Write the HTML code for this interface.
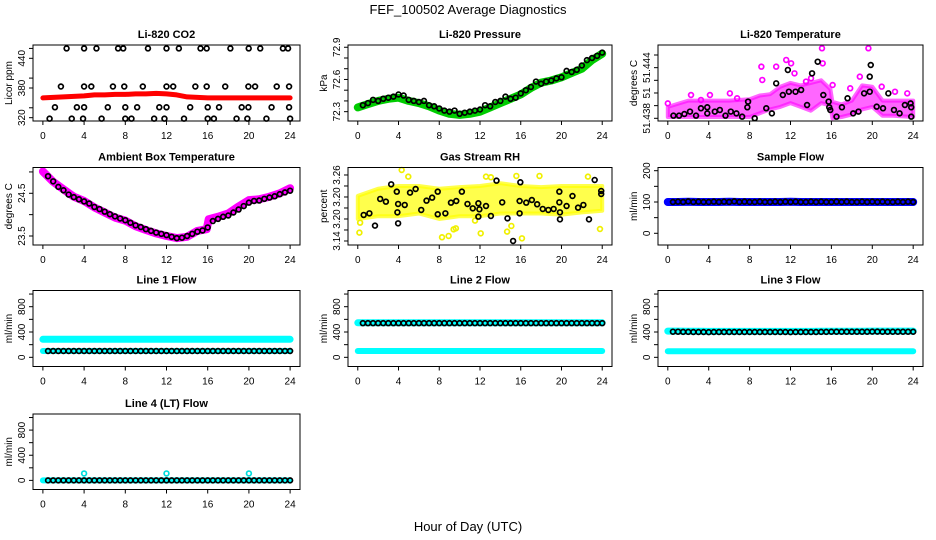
<!DOCTYPE html>
<html><head><meta charset="utf-8"><style>
html,body{margin:0;padding:0;background:#fff;}
svg{display:block;font-family:"Liberation Sans",sans-serif;}
</style></head><body>
<svg id="chart" width="936" height="540" viewBox="0 0 936 540" xmlns="http://www.w3.org/2000/svg">
<rect width="936" height="540" fill="#fff"/>
<text x="468" y="14" text-anchor="middle" font-size="13">FEF_100502  Average Diagnostics</text>
<text x="468" y="531" text-anchor="middle" font-size="13">Hour of Day (UTC)</text>
</svg>
<script>
// ---------- data ----------
const xTicks = [0,4,8,12,16,20,24];
const hourGrid = [0,1,2,3,4,5,6,7,8,9,10,11,12,13,14,15,16,17,18,19,20,21,22,23,24];
const halfHours = [0.5,1,1.5,2,2.5,3,3.5,4,4.5,5,5.5,6,6.5,7,7.5,8,8.5,9,9.5,10,10.5,11,11.5,12,12.5,13,13.5,14,14.5,15,15.5,16,16.5,17,17.5,18,18.5,19,19.5,20,20.5,21,21.5,22,22.5,23,23.5,24];

// CO2
const co2Red = [360,361,362,363,364,366,366,367,367,368,368,369,368,366,362,361,360,360,360,360,360,360,360,360,360];
const co2BlackH = [2.3,4.0,5.2,7.3,7.8,10.2,12.0,13.2,15.3,15.9,18.2,19.98,21.1,23.3,23.8,
 1.75,4.0,4.7,6.8,7.9,9.7,12.0,12.65,14.8,15.9,17.7,19.95,20.6,22.7,23.9,
 1.17,3.3,4.0,6.3,8.0,9.15,11.3,12.0,14.3,16.0,17.1,19.3,19.95,22.2,23.9,
 0.65,2.8,3.9,5.7,8.0,8.6,10.8,11.8,13.7,16.0,16.6,18.8,19.85,21.7,24.0];
const co2BlackV = [460,460,460,460,460,460,460,460,460,460,460,460,460,460,460,
 383,383,383,383,383,383,383,383,383,383,383,383,383,383,383,
 341,341,341,341,341,341,341,341,341,341,341,341,341,341,341,
 318,318,318,318,318,318,318,318,318,318,318,318,318,318,318];

// Pressure
const presBand = [72.34,72.37,72.40,72.42,72.43,72.40,72.38,72.35,72.31,72.28,72.27,72.28,72.30,72.34,72.38,72.42,72.46,72.52,72.57,72.59,72.62,72.66,72.70,72.78,72.84];
const presBlack = [72.36,72.38,72.41,72.40,72.42,72.43,72.44,72.46,72.45,72.41,72.40,72.39,72.40,72.36,72.35,72.33,72.31,72.30,72.31,72.28,72.29,72.30,72.31,72.32,72.36,72.35,72.39,72.40,72.44,72.42,72.43,72.47,72.50,72.53,72.58,72.56,72.58,72.59,72.61,72.62,72.68,72.67,72.69,72.73,72.78,72.80,72.82,72.85];

// Li-820 temperature
const tempEnvH = [0,2,4,6,8,9,10,11,12,13,14,15,15.9,16.1,17,18,19,20,21,22,24];
const tempLow = [51.4381,51.4381,51.4381,51.4381,51.4381,51.4384,51.4387,51.4389,51.4392,51.4389,51.4386,51.4392,51.4390,51.4380,51.4381,51.4383,51.4387,51.4389,51.4382,51.4382,51.4381];
const tempHigh = [51.4389,51.4394,51.4394,51.4394,51.4395,51.4398,51.4399,51.4405,51.4408,51.4406,51.4408,51.4410,51.4403,51.4393,51.4391,51.4394,51.4406,51.4405,51.4394,51.4394,51.4394];
const tempOutH = [0,2.27,3.24,4.12,6.07,6.78,9.15,9.24,10.6,11.58,12.06,12.39,13.52,14.01,15.08,15.15,16.12,17.84,18.78,19.62,20.92,22.22,23.42];
const tempOutV = [51.43918,51.43984,51.43945,51.43984,51.43997,51.43958,51.44208,51.44103,51.44208,51.44261,51.44234,51.44155,51.4409,51.44116,51.44353,51.44234,51.44063,51.44037,51.44129,51.44353,51.4405,51.4401,51.43997];
const tempBlackH = [0.55,1.1,1.62,2.17,2.76,3.24,3.86,3.86,4.6,5.09,5.64,6.16,6.71,7.27,7.78,7.85,8.5,9.63,10.18,10.6,11.25,11.74,11.84,12.49,13.04,13.62,14.11,14.66,15.21,15.73,15.79,15.89,16.5,17.03,17.58,18.13,18.65,19.2,19.75,19.75,19.85,20.43,21.05,21.57,22.12,22.67,23.19,23.75,23.81,23.81];
const tempBlackV = [51.43821,51.43821,51.43834,51.43853,51.43821,51.43879,51.43887,51.43839,51.43853,51.43866,51.43821,51.43853,51.43839,51.43813,51.43887,51.43932,51.438,51.43879,51.43839,51.44076,51.43984,51.44182,51.4401,51.4401,51.44024,51.43905,51.44155,51.44247,51.43984,51.43932,51.43887,51.43866,51.43813,51.43887,51.43958,51.43839,51.43853,51.43997,51.4401,51.44129,51.44221,51.43892,51.43879,51.43997,51.43866,51.43839,51.43905,51.43918,51.43887,51.43813];

// Ambient box temperature
const ambH = [0,1,2,3,4,5,6,7,8,9,10,11,12,13,14,15,15.9,16.1,17,18,19,20,21,22,23,24];
const ambBand = [25.01,24.77,24.59,24.42,24.32,24.17,24.05,23.93,23.86,23.73,23.64,23.56,23.50,23.45,23.48,23.62,23.66,23.89,23.95,24.03,24.19,24.34,24.36,24.42,24.5,24.62];
const ambBlack = [24.9,24.78,24.65,24.57,24.47,24.41,24.36,24.31,24.26,24.18,24.13,24.07,24.01,23.96,23.91,23.87,23.81,23.75,23.71,23.66,23.62,23.58,23.55,23.52,23.48,23.45,23.46,23.5,23.55,23.6,23.63,23.7,23.85,23.9,23.95,23.98,24.05,24.12,24.2,24.28,24.32,24.33,24.37,24.4,24.43,24.48,24.52,24.56];

// Gas stream RH
const rhEnvH = [0,2,4,6,8,10,12,14,16,18,20,22,24];
const rhLow = [3.180,3.185,3.185,3.190,3.180,3.185,3.185,3.190,3.190,3.190,3.188,3.192,3.195];
const rhHigh = [3.222,3.235,3.240,3.240,3.235,3.238,3.240,3.245,3.240,3.238,3.240,3.240,3.240];
const rhOutH = [0.16,0.23,4.31,4.96,8.27,8.92,9.41,9.63,11.51,12.07,12.59,13.07,14.66,15.08,15.57,16.12,17.84,22.6,23.78];
const rhOutV = [3.1552,3.1733,3.2691,3.257,3.1467,3.1491,3.1612,3.163,3.177,3.1539,3.257,3.2558,3.157,3.1673,3.2582,3.1448,3.2582,3.257,3.1618];
const rhBlackH = [0.58,1.14,1.69,2.2,2.76,3.28,3.83,3.89,3.96,3.96,4.61,5.13,5.68,6.23,6.75,7.3,7.85,7.85,8.6,9.15,9.67,10.22,10.77,11.29,11.84,11.84,11.94,12.59,13.07,13.62,14.18,14.7,15.25,15.89,15.89,15.96,16.54,17.09,17.61,18.16,18.71,19.23,19.79,19.79,19.85,19.85,20.5,21.08,21.63,22.15,22.7,23.26,23.9,23.9];
const rhBlackV = [3.1873,3.1903,3.1679,3.2164,3.2115,3.243,3.2297,3.1921,3.2073,3.1721,3.2055,3.2279,3.2345,3.1964,3.2133,3.2188,3.2297,3.1885,3.1903,3.2097,3.2127,3.2297,3.2073,3.1994,3.2085,3.1842,3.1976,3.2036,3.1855,3.2497,3.2103,3.1812,3.14,3.2127,3.1903,3.2467,3.2097,3.2145,3.2067,3.1982,3.1964,3.1982,3.2297,3.2103,3.1921,3.1794,3.2036,3.2218,3.2006,3.2055,3.1794,3.2509,3.2255,3.2309];

// Flows (hourly bands, half-hourly black points)
const sampleBand = [100,100,101,100,100,100,101,100,100,100,100,100,101,100,100,100,100,100,100,100,100,100,100,100,100];
const sampleBlack = [100,101,100,102,100,101,100,100,101,100,101,100,102,100,101,100,100,101,100,100,101,100,101,100,101,100,100,101,100,101,100,100,101,100,101,100,100,101,100,101,100,101,100,100,101,100,101,100];
const line1Hi = [285,285,285,285,285,285,285,285,285,285,285,285,285,285,285,285,285,285,285,285,285,285,285,285,285];
const line1Lo = [100,100,100,100,100,100,100,100,100,100,100,100,100,100,100,100,100,100,100,100,100,100,100,100,100];
const line1Black = [100,100,100,100,100,100,100,100,100,100,100,100,100,100,100,100,100,100,100,100,100,100,100,100,100,100,100,100,100,100,100,100,100,100,100,100,100,100,100,100,100,100,100,100,100,100,100,100];
const line2Hi = [545,545,545,545,545,545,545,545,545,545,545,545,545,545,545,545,545,545,545,545,545,545,545,545,545];
const line2Lo = [100,100,100,100,100,100,100,100,100,100,100,100,100,100,100,100,100,100,100,100,100,100,100,100,100];
const line2Black = [540,540,540,540,540,540,540,540,540,540,540,540,540,540,540,540,540,540,540,540,540,540,540,540,540,540,540,540,540,540,540,540,540,540,540,540,540,540,540,540,540,540,540,540,540,540,540,540];
const line3Hi = [415,415,412,412,410,410,410,410,410,410,410,410,410,410,410,412,412,412,412,412,415,415,415,415,415];
const line3Lo = [95,95,95,95,95,95,95,95,95,95,95,95,95,95,95,95,95,95,95,95,95,95,95,95,95];
const line3Black = [405,405,402,402,400,400,400,398,400,400,400,400,400,400,400,400,400,400,400,400,400,400,400,398,400,400,400,400,400,402,402,404,404,404,404,404,404,404,404,406,406,404,404,404,404,404,404,404];
const line4Cyan = [0,0,0,0,0,0,0,0,0,0,0,0,0,0,0,0,0,0,0,0,0,0,0,0,0];
const line4Black = [0,0,0,0,0,0,0,0,0,0,0,0,0,0,0,0,0,0,0,0,0,0,0,0,0,0,0,0,0,0,0,0,0,0,0,0,0,0,0,0,0,0,0,0,0,0,0,0];
const line4OutH = [4,12,20];
const line4OutV = [110,110,110];

// ---------- drawing ----------
const NS = "http://www.w3.org/2000/svg";
const svg = document.getElementById("chart");
const colL = [33,348,658], colR = [300,612,923];
const rowT = [45,167.5,290.5,414], rowB = [121,245,366.5,489.5];

function mk(tag, attrs, parent) {
  const e = document.createElementNS(NS, tag);
  for (const k in attrs) e.setAttribute(k, attrs[k]);
  (parent || svg).appendChild(e);
  return e;
}

function panel(name, col, row, ylim, title, ylab, yTicks, yLabels) {
  const g = mk("g", {});
  
  
  const L = colL[col], R = colR[col], T = rowT[row], B = rowB[row];
  const x = h => L + (h + 0.96) / 25.92 * (R - L);
  const y = v => B - (v - ylim[0]) / (ylim[1] - ylim[0]) * (B - T);
  const t = mk("text", {x: (L + R) / 2, y: T - 7, "text-anchor": "middle", "font-size": 11, "font-weight": "bold"}, g);
  t.textContent = title;
  
  
  const yl = mk("text", {x: 0, y: 0, "text-anchor": "middle", "font-size": 10, transform: `translate(${L - 21},${(T + B) / 2}) rotate(-90)`}, g);
  yl.textContent = ylab;
  
  
  const plot = mk("g", {}, g);
  
  
  const box = mk("rect", {x: L, y: T, width: R - L, height: B - T, fill: "none", stroke: "#000", "stroke-width": 1}, g);
  
  
  const xa = mk("g", {}, g);
  
  
  xTicks.forEach(v => {
    mk("line", {x1: x(v), x2: x(v), y1: B, y2: B + 4, stroke: "#000"}, xa);
    const lb = mk("text", {x: x(v), y: B + 18, "text-anchor": "middle", "font-size": 10}, xa);
    lb.textContent = v;
    
    
  });
  const ya = mk("g", {}, g);
  
  
  yTicks.forEach((v, i) => {
    mk("line", {x1: L - 4, x2: L, y1: y(v), y2: y(v), stroke: "#000"}, ya);
    if (yLabels[i] !== "") {
      const lb = mk("text", {x: 0, y: 0, "text-anchor": "middle", "font-size": 10, transform: `translate(${L - 8},${y(v)}) rotate(-90)`}, ya);
      lb.textContent = yLabels[i];
      
      
    }
  });
  return {x, y, plot, name};
}

function band(p, hs, vs, color, w, label) {
  const pts = hs.map((h, i) => p.x(h).toFixed(1) + "," + p.y(vs[i]).toFixed(1)).join(" ");
  const e = mk("polyline", {points: pts, fill: "none", stroke: color, "stroke-width": w, "stroke-linejoin": "round", "stroke-linecap": "round"}, p.plot);
  
  
}
function envelope(p, hs, lo, hi, color, op, label) {
  const a = hs.map((h, i) => p.x(h).toFixed(1) + "," + p.y(hi[i]).toFixed(1));
  const b = hs.map((h, i) => p.x(h).toFixed(1) + "," + p.y(lo[i]).toFixed(1)).reverse();
  const e = mk("polygon", {points: a.concat(b).join(" "), fill: color, "fill-opacity": op, stroke: color, "stroke-width": 4, "stroke-opacity": op, "stroke-linejoin": "round"}, p.plot);
  
  
}
function points(p, hs, vs, color, label) {
  const g = mk("g", {}, p.plot);
  
  
  hs.forEach((h, i) => {
    const c = mk("circle", {cx: p.x(h), cy: p.y(vs[i]), r: 2.4, fill: "none", stroke: color, "stroke-width": 1.7}, g);
    
    
  });
}

const flowTicks = [0,200,400,600,800,1000];
const flowLabels = ["0","","400","","800",""];

// Row 1
let p = panel("co2", 0, 0, [313.3,466.9], "Li-820 CO2", "Licor ppm", [320,340,380,400,440,460], ["320","","380","","440",""]);
band(p, hourGrid, co2Red, "#ff0000", 5, "red-series");
points(p, co2BlackH, co2BlackV, "#000", "black-series");

p = panel("pressure", 1, 0, [72.213,72.921], "Li-820 Pressure", "kPa", [72.3,72.4,72.5,72.6,72.7,72.8,72.9], ["72.3","","","72.6","","","72.9"]);
band(p, hourGrid, presBand, "#00cc00", 8, "green-series");
points(p, halfHours, presBlack, "#000", "black-series");

p = panel("li820-temp", 2, 0, [51.437787,51.44379], "Li-820 Temperature", "degrees C", [51.438,51.439,51.440,51.441,51.442,51.443], ["51.438","","51","","51.444",""]);
envelope(p, tempEnvH, tempLow, tempHigh, "#ff00ff", 0.6, "magenta-cloud");
points(p, tempOutH, tempOutV, "#ff00ff", "magenta-outliers");
points(p, tempBlackH, tempBlackV, "#000", "black-series");

// Row 2
p = panel("ambient-temp", 0, 1, [23.289,25.104], "Ambient Box Temperature", "degrees C", [23.5,24.0,24.5,25.0], ["23.5","","24.5",""]);
band(p, ambH, ambBand, "#ff00ff", 8, "magenta-series");
points(p, halfHours, ambBlack, "#000", "black-series");

p = panel("gas-rh", 1, 1, [3.1327,3.2736], "Gas Stream RH", "percent", [3.14,3.16,3.18,3.20,3.22,3.24,3.26], ["3.14","","3.20","","3.20","","3.26"]);
envelope(p, rhEnvH, rhLow, rhHigh, "#ffff00", 0.7, "yellow-cloud");
points(p, rhOutH, rhOutV, "#f0f000", "yellow-outliers");
points(p, rhBlackH, rhBlackV, "#000", "black-series");

p = panel("sample-flow", 2, 1, [-37.4,210.2], "Sample Flow", "ml/min", [0,50,100,150,200], ["0","","100","","200"]);
band(p, hourGrid, sampleBand, "#0000ff", 8, "blue-series");
points(p, halfHours, sampleBlack, "#000", "black-series");

// Row 3
p = panel("line1-flow", 0, 2, [-145,1056], "Line 1 Flow", "ml/min", flowTicks, flowLabels);
band(p, hourGrid, line1Hi, "#00ffff", 7, "cyan-upper");
band(p, hourGrid, line1Lo, "#00ffff", 6, "cyan-lower");
points(p, halfHours, line1Black, "#000", "black-series");

p = panel("line2-flow", 1, 2, [-145,1056], "Line 2 Flow", "ml/min", flowTicks, flowLabels);
band(p, hourGrid, line2Hi, "#00ffff", 7, "cyan-upper");
band(p, hourGrid, line2Lo, "#00ffff", 6, "cyan-lower");
points(p, halfHours, line2Black, "#000", "black-series");

p = panel("line3-flow", 2, 2, [-145,1056], "Line 3 Flow", "ml/min", flowTicks, flowLabels);
band(p, hourGrid, line3Hi, "#00ffff", 7, "cyan-upper");
band(p, hourGrid, line3Lo, "#00ffff", 6, "cyan-lower");
points(p, halfHours, line3Black, "#000", "black-series");

// Row 4
p = panel("line4-flow", 0, 3, [-145,1056], "Line 4 (LT) Flow", "ml/min", flowTicks, flowLabels);
band(p, hourGrid, line4Cyan, "#00ffff", 6, "cyan-series");
points(p, line4OutH, line4OutV, "#00dddd", "cyan-outliers");
points(p, halfHours, line4Black, "#000", "black-series");
</script>
</body></html>
